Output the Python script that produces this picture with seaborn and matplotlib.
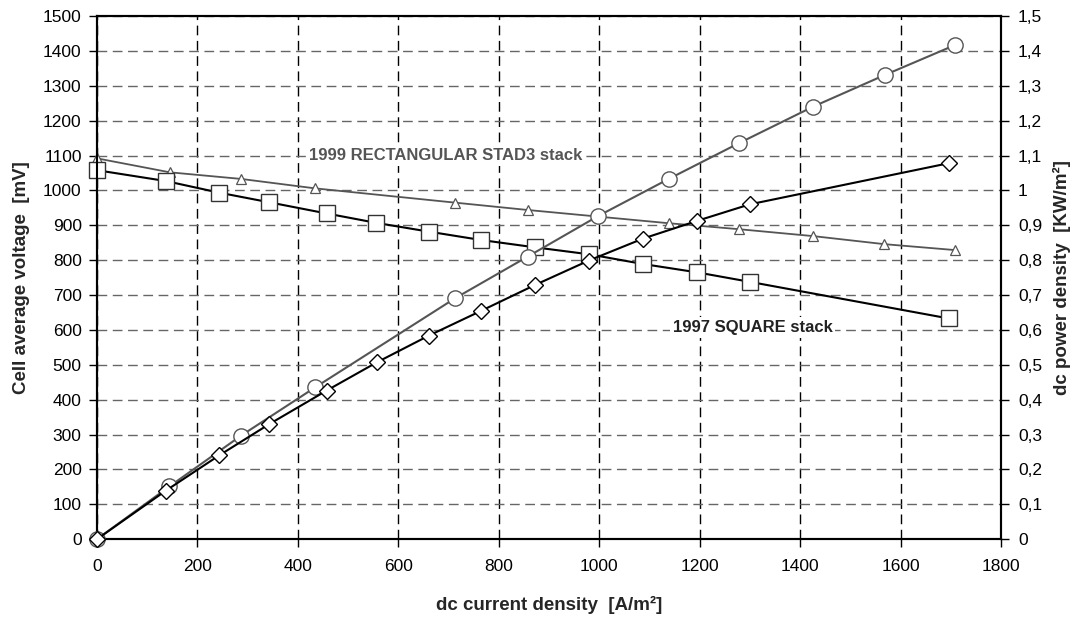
import matplotlib
matplotlib.use("Agg")
import matplotlib.pyplot as plt
import seaborn as sns
import numpy as np

# ---- data ----
x_1999_v = [0, 145, 287, 434, 713, 857, 1138, 1277, 1426, 1567, 1708]
v_1999 = [1092, 1052, 1033, 1006, 965, 944, 906, 889, 869, 846, 829]

x_1997_v = [0, 137, 242, 343, 457, 556, 660, 764, 871, 979, 1087, 1195, 1299, 1695]
v_1997 = [1058, 1027, 994, 966, 934, 907, 882, 858, 837, 817, 789, 765, 738, 633]

x_1999_p = [0, 144, 287, 434, 713, 857, 998, 1138, 1277, 1425, 1568, 1708]
p_1999 = [0.0, 0.151, 0.297, 0.435, 0.691, 0.810, 0.927, 1.033, 1.135, 1.240, 1.331, 1.417]

x_1997_p = [0, 137, 243, 343, 457, 557, 661, 765, 872, 979, 1087, 1195, 1299, 1695]
p_1997 = [0.0, 0.139, 0.240, 0.330, 0.426, 0.507, 0.584, 0.655, 0.729, 0.799, 0.862, 0.913, 0.960, 1.078]

x_ticks = [0, 200, 400, 600, 800, 1000, 1200, 1400, 1600, 1800]
left_ticks = list(range(0, 1501, 100))
right_ticks = [i / 10 for i in range(0, 16)]
right_labels = ["0", "0,1", "0,2", "0,3", "0,4", "0,5", "0,6", "0,7", "0,8", "0,9",
                "1", "1,1", "1,2", "1,3", "1,4", "1,5"]

label_1999 = "1999 RECTANGULAR STAD3 stack"
label_1997 = "1997 SQUARE stack"

# ---- style ----
sns.set_style("white")
plt.rcParams['font.family'] = ['Liberation Sans', 'DejaVu Sans']

fig = plt.figure(figsize=(10.74, 6.19), dpi=100)
ax = fig.add_axes([0.0903, 0.129, 0.842, 0.845])
ax2 = ax.twinx()

gray = "#555555"

common = dict(sort=False, clip_on=False, zorder=3)
sns.lineplot(x=x_1999_v, y=v_1999, ax=ax, color=gray, lw=1.3,
             marker="^", markersize=7, markerfacecolor="white",
             markeredgecolor=gray, markeredgewidth=0.9, **common)
sns.lineplot(x=x_1997_v, y=v_1997, ax=ax, color="black", lw=1.5,
             marker="s", markersize=11, markerfacecolor="white",
             markeredgecolor="#333333", markeredgewidth=1.0, **common)
sns.lineplot(x=x_1999_p, y=p_1999, ax=ax2, color=gray, lw=1.5,
             marker="o", markersize=11, markerfacecolor="white",
             markeredgecolor="#555555", markeredgewidth=1.0, **common)
sns.lineplot(x=x_1997_p, y=p_1997, ax=ax2, color="black", lw=1.5,
             marker="D", markersize=8, markerfacecolor="white",
             markeredgecolor="black", markeredgewidth=1.0, **common)

ax.set_xlim(0, 1800)
ax.set_ylim(0, 1500)
ax2.set_ylim(0, 1.5)
ax.set_xticks(x_ticks)
ax.set_yticks(left_ticks)
ax2.set_yticks(right_ticks)
ax2.set_yticklabels(right_labels)

ax.grid(False)
ax2.grid(False)
ax.yaxis.grid(True, color="#666666", linestyle=(0, (7, 4)), lw=1.0)
ax.xaxis.grid(True, color="black", linestyle=(0, (7, 4)), lw=1.0)
ax.set_axisbelow(True)

for a in (ax, ax2):
    for s in a.spines.values():
        s.set_color("black")
        s.set_linewidth(1.5)
ax.tick_params(axis="both", direction="out", length=6, width=1, labelsize=12.5,
               colors="black", left=True, bottom=True, pad=5)
ax.tick_params(axis="x", pad=8)
ax2.tick_params(axis="y", direction="out", length=6, width=1, labelsize=12.5,
                colors="black", right=True, pad=6)

ax.set_xlabel("dc current density  [A/m²]", fontsize=13.5, fontweight="bold", labelpad=16)
ax.set_ylabel("Cell average voltage  [mV]", fontsize=13.5, fontweight="bold", labelpad=9)
ax2.set_ylabel("dc power density  [KW/m²]", fontsize=13.5, fontweight="bold", labelpad=8)

ax.text(423, 1100, label_1999, fontsize=12, fontweight="bold", color=gray,
        ha="left", va="center", zorder=2,
        bbox=dict(facecolor="white", edgecolor="none", pad=2))
ax.text(1146, 607, label_1997, fontsize=12, fontweight="bold", color="#222222",
        ha="left", va="center", zorder=2,
        bbox=dict(facecolor="white", edgecolor="none", pad=2))

fig.savefig("out.png", dpi=100)
